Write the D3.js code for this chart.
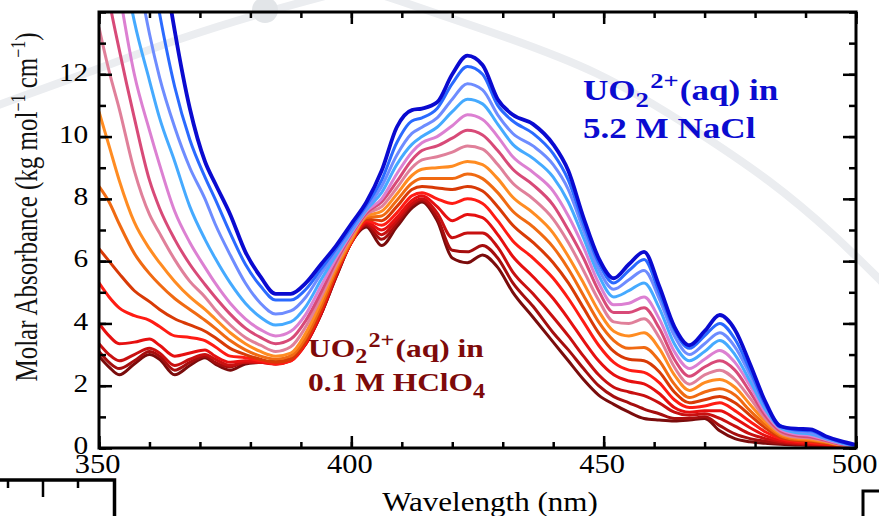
<!DOCTYPE html>
<html><head><meta charset="utf-8">
<script src="https://cdn.jsdelivr.net/npm/d3@7"></script>
<style>html,body{margin:0;padding:0;background:#fff;overflow:hidden}</style>
</head><body>
<svg id="c" width="879" height="516"></svg>
<script>
const wavelengths = [350,352,354,357,360,362,365,368,371,373,376,379,382,385,388,391,394,397,400,403,406,409,412,414,417,420,423,426,429,432,436,440,443,446,449,452,455,458,461,464,467,470,473,476,479,482,485,488,491,494,497,500];
// from 0.1 M HClO4 (s0) to 5.2 M NaCl (s14)
const s0 = [2.95,2.6,2.35,2.7,3.0,2.85,2.35,2.65,2.9,2.7,2.5,2.7,2.75,2.8,2.95,3.4,4.3,5.5,6.6,7.1,6.5,7.1,7.7,7.9,7.3,6.1,5.95,6.2,5.8,5.0,4.2,3.4,2.8,2.2,1.7,1.4,1.15,0.95,0.9,0.87,0.9,0.95,0.55,0.3,0.2,0.15,0.12,0.1,0.08,0.07,0.05,0.02];
const s1 = [3.1,2.75,2.55,2.8,3.1,2.95,2.5,2.75,2.95,2.75,2.6,2.75,2.75,2.75,2.9,3.35,4.3,5.5,6.6,7.15,6.7,7.2,7.8,7.95,7.4,6.35,6.3,6.5,6.1,5.3,4.55,3.7,3.15,2.55,2.0,1.65,1.45,1.25,1.1,0.95,0.95,1.0,0.72,0.45,0.3,0.22,0.16,0.13,0.1,0.08,0.05,0.02];
const s2 = [3.35,3.0,2.8,3.0,3.2,3.05,2.65,2.85,3.0,2.85,2.65,2.75,2.75,2.7,2.85,3.35,4.3,5.55,6.6,7.2,6.85,7.3,7.85,8.0,7.55,6.75,6.9,6.9,6.45,5.65,4.95,4.2,3.6,2.95,2.35,1.95,1.8,1.68,1.45,1.15,1.05,1.1,0.95,0.7,0.45,0.3,0.2,0.15,0.12,0.09,0.05,0.02];
const s3 = [4.0,3.6,3.35,3.4,3.5,3.3,2.95,3.05,3.15,2.95,2.75,2.8,2.75,2.7,2.8,3.35,4.35,5.6,6.6,7.25,7.0,7.4,7.95,8.1,7.75,7.3,7.5,7.4,6.85,6.15,5.5,4.8,4.15,3.45,2.8,2.35,2.15,2.06,1.75,1.3,1.15,1.2,1.2,0.95,0.65,0.4,0.25,0.18,0.15,0.11,0.06,0.02];
const s4 = [5.3,4.85,4.5,4.25,4.1,3.9,3.6,3.55,3.45,3.25,2.95,2.9,2.8,2.7,2.8,3.4,4.4,5.6,6.6,7.3,7.15,7.55,8.1,8.2,8.0,7.85,8.0,7.85,7.3,6.65,6.1,5.45,4.8,4.05,3.3,2.75,2.5,2.43,2.1,1.55,1.3,1.35,1.45,1.2,0.85,0.52,0.3,0.22,0.18,0.13,0.07,0.03];
const s5 = [6.4,6.0,5.6,5.05,4.7,4.45,4.15,3.95,3.75,3.55,3.2,3.0,2.85,2.75,2.85,3.45,4.45,5.65,6.65,7.35,7.3,7.75,8.3,8.4,8.35,8.3,8.4,8.25,7.75,7.15,6.6,5.95,5.3,4.5,3.7,3.1,2.85,2.8,2.45,1.8,1.45,1.55,1.65,1.45,1.05,0.65,0.35,0.25,0.22,0.15,0.08,0.03];
const s6 = [8.4,7.9,7.2,6.25,5.6,5.25,4.8,4.45,4.1,3.85,3.45,3.15,2.95,2.85,2.95,3.55,4.55,5.7,6.65,7.4,7.45,7.95,8.5,8.65,8.65,8.65,8.8,8.65,8.2,7.6,7.1,6.45,5.75,4.9,4.05,3.45,3.2,3.23,2.8,2.05,1.62,1.8,1.9,1.7,1.2,0.75,0.4,0.28,0.25,0.18,0.09,0.03];
const s7 = [10.8,9.7,8.6,7.25,6.4,5.95,5.35,4.85,4.45,4.15,3.7,3.35,3.1,2.95,3.05,3.7,4.7,5.8,6.7,7.45,7.6,8.15,8.75,8.95,9.0,9.05,9.2,9.1,8.65,8.05,7.55,6.9,6.15,5.3,4.4,3.75,3.6,3.7,3.2,2.35,1.85,2.1,2.2,1.95,1.4,0.85,0.45,0.32,0.28,0.2,0.1,0.04];
const s8 = [13.5,12.1,10.9,8.9,7.5,6.9,6.05,5.35,4.85,4.45,3.95,3.55,3.3,3.1,3.25,3.9,4.85,5.9,6.8,7.5,7.75,8.35,9.0,9.25,9.35,9.5,9.7,9.6,9.1,8.5,8.0,7.35,6.6,5.7,4.75,4.05,4.0,4.15,3.55,2.6,2.05,2.35,2.5,2.2,1.6,0.95,0.5,0.35,0.32,0.22,0.11,0.04];
const s9 = [16.5,14.4,12.8,10.6,8.6,7.7,6.7,5.9,5.25,4.85,4.3,3.85,3.55,3.35,3.5,4.1,5.0,6.0,6.85,7.55,7.9,8.55,9.25,9.55,9.7,9.95,10.2,10.05,9.55,8.95,8.45,7.8,7.0,6.1,5.05,4.35,4.35,4.5,3.85,2.85,2.3,2.6,2.8,2.5,1.8,1.05,0.55,0.4,0.35,0.24,0.12,0.05];
const s10 = [19,16.8,14.7,12.0,10.2,9.1,7.6,6.6,5.8,5.3,4.65,4.15,3.8,3.6,3.75,4.3,5.2,6.1,6.9,7.6,8.0,8.8,9.5,9.8,10.0,10.35,10.7,10.55,10.0,9.35,8.85,8.25,7.45,6.45,5.3,4.6,4.65,4.85,4.15,3.1,2.55,2.85,3.13,2.75,2.0,1.15,0.6,0.45,0.4,0.27,0.14,0.05];
const s11 = [21,18.5,16.3,13.7,11.8,10.6,9.2,7.75,6.7,6.1,5.3,4.65,4.2,3.95,4.05,4.55,5.4,6.2,6.95,7.65,8.2,9.1,9.75,10.0,10.3,10.8,11.2,11.05,10.4,9.75,9.3,8.7,7.9,6.75,5.55,4.85,5.05,5.3,4.5,3.35,2.8,3.1,3.45,3.0,2.15,1.25,0.65,0.5,0.45,0.3,0.16,0.06];
const s12 = [24,22,19.5,16,13.3,11.9,10.3,9.0,8.0,7.2,6.2,5.3,4.65,4.3,4.4,4.85,5.6,6.3,7.0,7.7,8.4,9.4,10.1,10.3,10.6,11.2,11.7,11.5,10.7,10.1,9.7,9.1,8.3,7.0,5.75,5.1,5.4,5.7,4.8,3.6,3.0,3.35,3.7,3.25,2.35,1.35,0.7,0.55,0.5,0.32,0.18,0.07];
const s13 = [27,25,22.5,19,15.8,13.95,11.6,9.9,8.7,8.0,6.9,5.9,5.2,4.75,4.75,5.1,5.75,6.4,7.1,7.8,8.6,9.8,10.5,10.6,10.9,11.7,12.25,12.0,11.0,10.5,10.1,9.45,8.6,7.2,5.95,5.3,5.7,6.05,5.0,3.8,3.2,3.6,4.0,3.5,2.5,1.4,0.72,0.58,0.55,0.35,0.2,0.08];
const s14 = [30,28,26,23,19,16.5,13.4,10.9,9.2,8.5,7.5,6.3,5.5,4.95,4.95,5.3,5.9,6.5,7.2,7.9,8.9,10.3,10.85,10.9,11.1,12.0,12.6,12.3,11.2,10.7,10.4,9.75,8.9,7.4,6.1,5.45,5.9,6.3,5.2,3.9,3.3,3.75,4.27,3.8,2.7,1.5,0.7,0.62,0.6,0.38,0.22,0.1];
const seriesColors = ["#7a0c0c","#a50e0e","#c81010","#e61010","#ff1c14","#d83a06","#f06a12","#ff8c22","#e0809a","#d84a78","#dc80d2","#45aaff","#6e8cff","#2a6aff","#0a0ad0"];
const xTickLabels = [350,400,450,500];
const yTickLabels = [0,2,4,6,8,10,12];
const xMinorTicks = d3.range(350,501,10);
const yMinorTicks = d3.range(0,15,1);
const series = [s0,s1,s2,s3,s4,s5,s6,s7,s8,s9,s10,s11,s12,s13,s14];

const svg = d3.select("#c");
const L=99,R=856,T=12,B=448;
const x = d3.scaleLinear().domain([350,500]).range([L,R]);
const y = d3.scaleLinear().domain([0,14]).range([B,T]);
const serif = "'Liberation Serif','Times New Roman',serif";

// faint background watermark
const wm = svg.append("g").attr("fill","none").attr("stroke","#ebedf0").attr("stroke-width",8).attr("stroke-linecap","round");
const wmLine = d3.line().curve(d3.curveBasis);
wm.append("path").attr("d", wmLine([[-10,108],[90,72],[180,38],[265,12],[340,-8]]));
wm.append("path").attr("d", wmLine([[385,-4],[480,28],[600,70],[700,133],[770,180],[833,233],[890,290]]));
svg.append("circle").attr("cx",265).attr("cy",10).attr("r",13).attr("fill","#e2e5e8");

svg.append("clipPath").attr("id","pc").append("rect").attr("x",L).attr("y",T).attr("width",R-L).attr("height",B-T);

const line = d3.line().x((d,i)=>x(wavelengths[i])).y(d=>y(d)).curve(d3.curveMonotoneX);
const g = svg.append("g").attr("clip-path","url(#pc)");
series.forEach((s,i)=>{
  g.append("path").attr("d",line(s)).attr("fill","none")
   .attr("stroke",seriesColors[i]).attr("stroke-width", i===14?3.8:3)
   .attr("stroke-linejoin","round");
});

// axes (inward ticks)
function styleAxis(sel){ sel.select(".domain").remove(); sel.selectAll("line").attr("stroke","#000").attr("stroke-width",2.5); }
svg.append("g").attr("transform",`translate(0,${B})`).call(d3.axisBottom(x).tickValues(xMinorTicks).tickSize(-6).tickFormat("")).call(styleAxis);
svg.append("g").attr("transform",`translate(0,${T})`).call(d3.axisTop(x).tickValues(xMinorTicks).tickSize(-6).tickFormat("")).call(styleAxis);
svg.append("g").attr("transform",`translate(0,${T})`).call(d3.axisTop(x).tickValues(xTickLabels).tickSize(-12).tickFormat("")).call(styleAxis);
const xb = svg.append("g").attr("transform",`translate(0,${B})`).call(d3.axisBottom(x).tickValues(xTickLabels).tickSize(-12).tickPadding(0)).call(styleAxis);
xb.selectAll("text").attr("y",25.5).attr("dy",0).attr("font-family",serif).attr("font-size",27).attr("fill","#000").attr("transform","translate(-2,0) scale(1.13,1)");

svg.append("g").attr("transform",`translate(${L},0)`).call(d3.axisLeft(y).tickValues(yMinorTicks).tickSize(-7).tickFormat("")).call(styleAxis);
svg.append("g").attr("transform",`translate(${R},0)`).call(d3.axisRight(y).tickValues(yMinorTicks).tickSize(-7).tickFormat("")).call(styleAxis);
svg.append("g").attr("transform",`translate(${R},0)`).call(d3.axisRight(y).tickValues(yTickLabels).tickSize(-13).tickFormat("")).call(styleAxis);
const yl = svg.append("g").attr("transform",`translate(${L},0)`).call(d3.axisLeft(y).tickValues(yTickLabels).tickSize(-13).tickPadding(0)).call(styleAxis);
yl.selectAll("text").attr("x",-9.5).attr("y",-3).attr("dy","0.34em").attr("font-family",serif).attr("font-size",26).attr("fill","#000").attr("transform","scale(1.13,1)");

// frame
svg.append("rect").attr("x",L).attr("y",T).attr("width",R-L).attr("height",B-T).attr("fill","none").attr("stroke","#000").attr("stroke-width",3);

// axis titles
svg.append("text").attr("transform","translate(490,511) scale(1.15,1)").attr("text-anchor","middle")
  .attr("font-family",serif).attr("font-size",27).attr("fill","#000").text("Wavelength (nm)");
const yt = svg.append("text").attr("transform","translate(37,207) scale(1.3,1) rotate(-90)").attr("text-anchor","middle")
  .attr("font-family",serif).attr("font-size",25).attr("fill","#111");
yt.append("tspan").text("Molar Absorbance (kg mol");
yt.append("tspan").attr("dy",-9).attr("font-size",16).text("−1");
yt.append("tspan").attr("dy",9).text(" cm");
yt.append("tspan").attr("dy",-9).attr("font-size",16).text("−1");
yt.append("tspan").attr("dy",9).text(")");

// annotations
function uranyl(gx, gy, color, fs, ss, subDy, line2Y, line2, sub2){
  const a = svg.append("g").attr("transform",`translate(${gx},${gy}) scale(1.21,1)`)
    .attr("font-family",serif).attr("font-weight","bold").attr("fill",color);
  const t = a.append("text").attr("font-size",fs);
  t.append("tspan").text("UO");
  t.append("tspan").attr("font-size",ss).attr("dy",subDy).text("2");
  t.append("tspan").attr("font-size",ss).attr("dx",1).attr("dy",-subDy-fs*0.38).text("2+");
  t.append("tspan").attr("dx",1).attr("dy",fs*0.38).text("(aq) in");
  const t2 = a.append("text").attr("font-size",fs).attr("y",line2Y);
  t2.append("tspan").text(line2);
  if(sub2){ t2.append("tspan").attr("font-size",ss).attr("dy",subDy+1).text(sub2); }
}
uranyl(583,99.5,"#0b0bd0",29,22,7.5,38.5,"5.2 M NaCl",null);
uranyl(308,357,"#7d0a0a",26,20,6,34.5,"0.1 M HClO","4");

// cropped neighbouring-panel fragments
const fr = svg.append("g").attr("stroke","#000").attr("fill","none");
fr.append("path").attr("d","M0,480 H114.5 V516").attr("stroke-width",3.5);
[[8,488],[43,497],[78,488]].forEach(p=>fr.append("line").attr("x1",p[0]).attr("x2",p[0]).attr("y1",480).attr("y2",p[1]).attr("stroke-width",2.5));
fr.append("path").attr("d","M879,491 H863 V516").attr("stroke-width",3);
</script>
</body></html>
